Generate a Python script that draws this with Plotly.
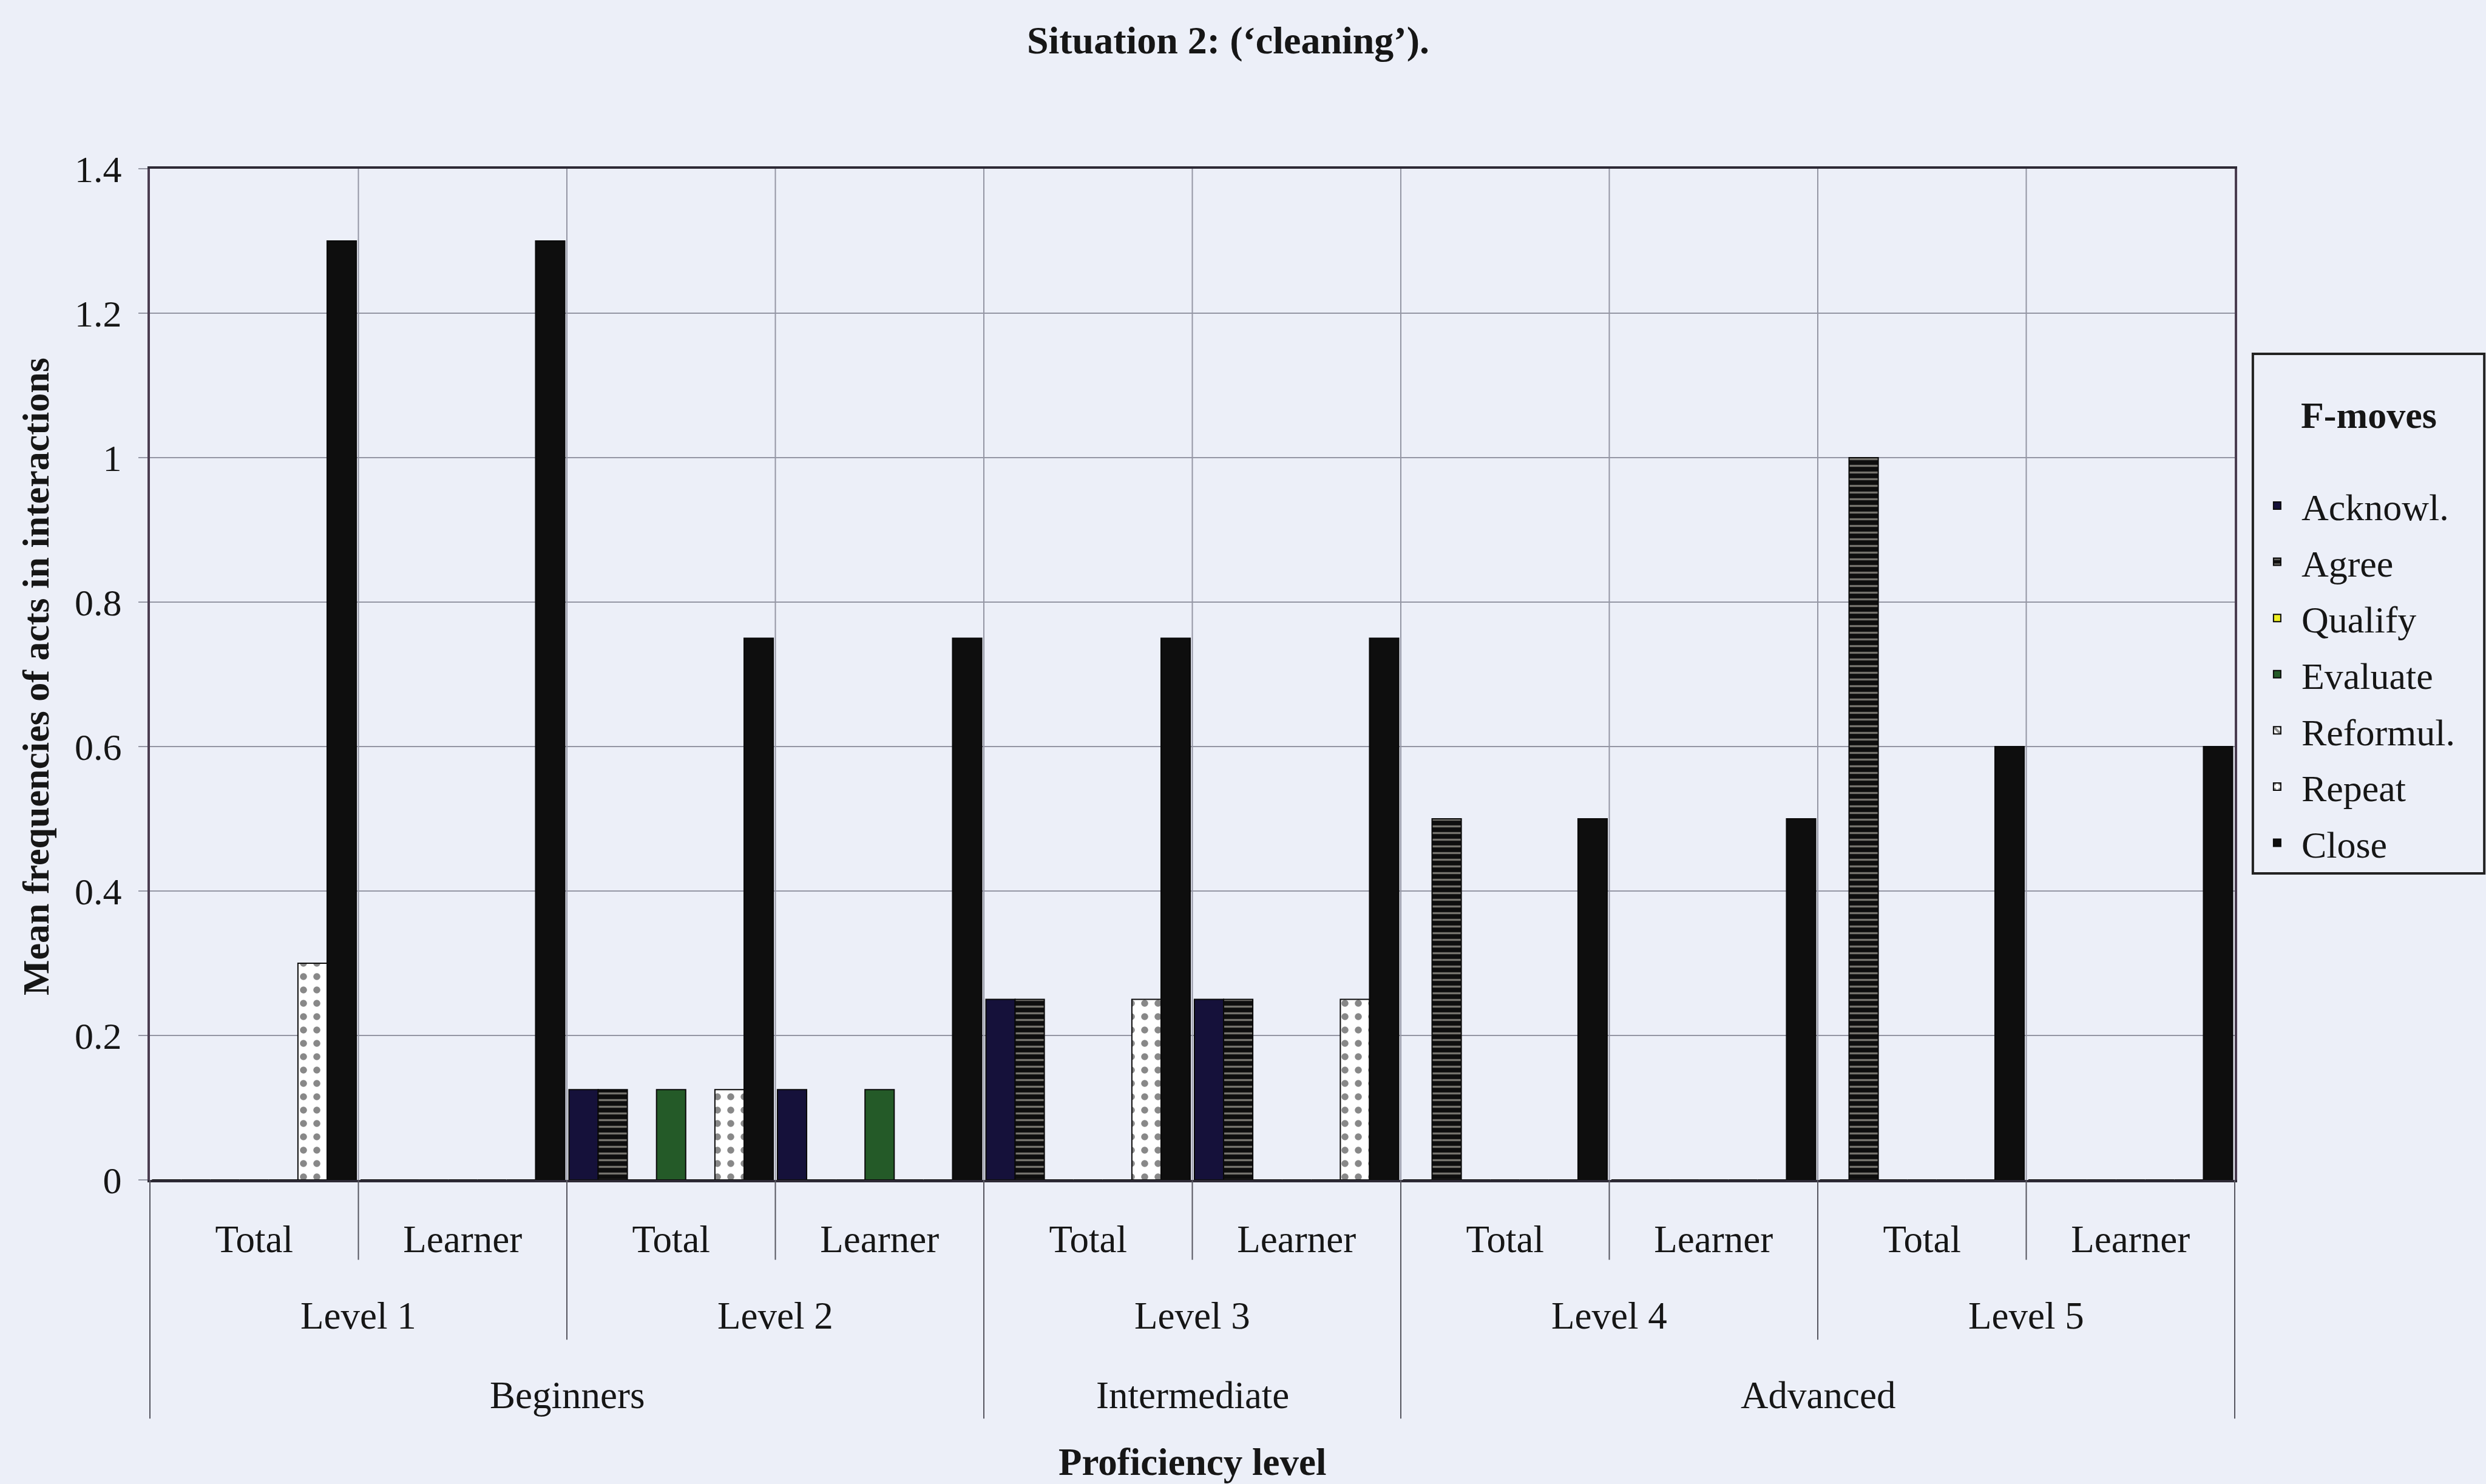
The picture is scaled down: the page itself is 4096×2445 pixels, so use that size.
import plotly.graph_objects as go

# ---- data -------------------------------------------------------------
subgroups = ["Total", "Learner", "Total", "Learner", "Total",
             "Learner", "Total", "Learner", "Total", "Learner"]
levels = ["Level 1", "Level 2", "Level 3", "Level 4", "Level 5"]
bands = ["Beginners", "Intermediate", "Advanced"]
band_level_counts = [2, 1, 2]

acknowl = [0, 0, 0.125, 0.125, 0.25, 0.25, 0, 0, 0, 0]
agree = [0, 0, 0.125, 0, 0.25, 0.25, 0.5, 0, 1.0, 0]
qualify = [0, 0, 0, 0, 0, 0, 0, 0, 0, 0]
evaluate = [0, 0, 0.125, 0.125, 0, 0, 0, 0, 0, 0]
reformul = [0, 0, 0, 0, 0, 0, 0, 0, 0, 0]
repeat = [0.3, 0, 0.125, 0, 0.25, 0.25, 0, 0, 0, 0]
close = [1.3, 1.3, 0.75, 0.75, 0.75, 0.75, 0.5, 0.5, 0.6, 0.6]

y_ticks = [0, 0.2, 0.4, 0.6, 0.8, 1.0, 1.2, 1.4]

# ---- styling ----------------------------------------------------------
BG = "#eceff8"
GRID = "#9496a4"
INK = "#161616"
SERIF = "Liberation Serif, Times New Roman, serif"
FS = 62

series = [
    ("Acknowl.", acknowl, dict(color="#15113a")),
    ("Agree", agree, dict(color="#111111",
                          pattern=dict(shape="-", fgcolor="#dcd8cc", bgcolor="#0e0e0e",
                                       size=11, solidity=0.3))),
    ("Qualify", qualify, dict(color="#eeee22")),
    ("Evaluate", evaluate, dict(color="#245a28")),
    ("Reformul.", reformul, dict(color="#ffffff",
                                 pattern=dict(shape="\\", fgcolor="#111111", bgcolor="#ffffff",
                                              size=14, solidity=0.5))),
    ("Repeat", repeat, dict(color="#ffffff",
                            pattern=dict(shape=".", fgcolor="#111111", bgcolor="#ffffff",
                                         size=22, solidity=0.22))),
    ("Close", close, dict(color="#0e0e0e")),
]

n = len(subgroups)
x = list(range(n))

fig = go.Figure()
for name, vals, mk in series:
    mk = dict(mk)
    mk["line"] = dict(color="#0a0a0a", width=2)
    fig.add_trace(go.Bar(name=name, x=x, y=vals, marker=mk,
                         legendgroup=name, showlegend=True))

# vertical grid lines at category boundaries inside the plot
shapes = []
for b in range(n - 1):
    shapes.append(dict(type="line", xref="x", yref="y", x0=b + 0.5, x1=b + 0.5,
                       y0=0, y1=y_ticks[-1], layer="below",
                       line=dict(color=GRID, width=2)))


def dom(boundary):
    # category boundary -> fraction of the x domain
    return (boundary + 0.5) / n


# divider lines under the axis: sub-group, level and band boundaries
band_edges = [-0.5]
for c in band_level_counts:
    band_edges.append(band_edges[-1] + 2 * c)
level_edges = [-0.5 + 2 * k for k in range(len(levels) + 1)]
for b in [k + 0.5 for k in range(-1, n)]:
    if b in band_edges:
        depth = -0.236
    elif b in level_edges:
        depth = -0.158
    else:
        depth = -0.079
    shapes.append(dict(type="line", xref="x domain", yref="paper",
                       x0=dom(b), x1=dom(b), y0=0, y1=depth,
                       line=dict(color="#55555f", width=2)))

# frame around the legend block
shapes.append(dict(type="rect", xref="paper", yref="paper",
                   x0=1.0087, x1=1.1197, y0=0.3031, y1=0.8169,
                   line=dict(color="#222222", width=4), fillcolor="rgba(0,0,0,0)"))

annotations = []
for k, lv in enumerate(levels):
    annotations.append(dict(text=lv, xref="x", yref="paper", x=2 * k + 0.5, y=-0.1346,
                            yanchor="middle", showarrow=False,
                            font=dict(family=SERIF, size=63, color=INK)))
for i, bd in enumerate(bands):
    mid = (band_edges[i] + band_edges[i + 1]) / 2
    annotations.append(dict(text=bd, xref="x", yref="paper", x=mid, y=-0.213,
                            yanchor="middle", showarrow=False,
                            font=dict(family=SERIF, size=63, color=INK)))
annotations.append(dict(text="Proficiency level", xref="paper", yref="paper",
                        x=0.5, y=-0.279, yanchor="middle", showarrow=False,
                        font=dict(family=SERIF, size=63, color=INK, weight="bold")))
annotations.append(dict(text="Mean frequencies of acts in interactions",
                        xref="paper", yref="paper", x=-0.0545, y=0.498,
                        xanchor="center", yanchor="middle", textangle=-90,
                        showarrow=False,
                        font=dict(family=SERIF, size=FS, color=INK, weight="bold")))
annotations.append(dict(text="F-moves", xref="paper", yref="paper",
                        x=1.0642, y=0.7563, xanchor="center", yanchor="middle",
                        showarrow=False,
                        font=dict(family=SERIF, size=FS, color=INK, weight="bold")))

fig.update_layout(
    width=4096, height=2445,
    margin=dict(l=247, r=414, t=278, b=501),
    paper_bgcolor=BG, plot_bgcolor=BG,
    barmode="group", bargap=0.02, bargroupgap=0,
    title=dict(text="Situation 2: (‘cleaning’).", x=0.494, xref="container",
               y=1 - 66 / 2445, yref="container", xanchor="center", yanchor="middle",
               font=dict(family=SERIF, size=64, color=INK, weight="bold")),
    xaxis=dict(range=[-0.5, n - 0.5], tickvals=x, ticktext=subgroups,
               showgrid=False, zeroline=False, ticks="",
               showline=True, linecolor="#2e2a36", linewidth=4, mirror=True,
               ticklabelstandoff=39,
               tickfont=dict(family=SERIF, size=63, color=INK)),
    yaxis=dict(range=[0, y_ticks[-1]], tickvals=y_ticks, showgrid=True,
               gridcolor=GRID, gridwidth=2, zeroline=False,
               ticks="outside", ticklen=15, tickwidth=2, tickcolor=GRID,
               showline=True, linecolor="#4a3c50", linewidth=4, mirror=True,
               ticklabelstandoff=15,
               tickfont=dict(family=SERIF, size=FS, color=INK)),
    legend=dict(x=1.0087, y=0.695, xanchor="left", yanchor="top",
                bgcolor="rgba(0,0,0,0)", borderwidth=0,
                traceorder="grouped", tracegroupgap=9, itemwidth=70,
                font=dict(family=SERIF, size=FS, color=INK)),
    shapes=shapes,
    annotations=annotations,
)

fig.write_html("out.html")
